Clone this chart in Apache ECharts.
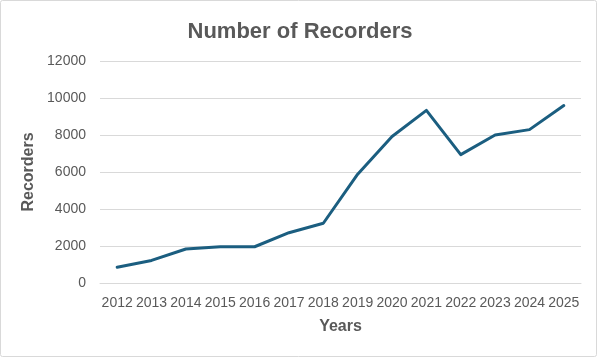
<!DOCTYPE html>
<html>
<head>
<meta charset="utf-8">
<script src="https://cdn.jsdelivr.net/npm/echarts@6/dist/echarts.min.js"></script>
<style>
html,body{margin:0;padding:0;background:#fff;}
#chart{width:600px;height:358px;}
</style>
</head>
<body>
<div id="chart"></div>
<script>
const years = ['2012','2013','2014','2015','2016','2017','2018','2019','2020','2021','2022','2023','2024','2025'];
const recorders = [850, 1220, 1840, 1960, 1960, 2720, 3230, 5880, 7920, 9330, 6940, 8000, 8290, 9590];

const chart = echarts.init(document.getElementById('chart'), null, {renderer:'canvas'});
const font = 'Liberation Sans, Arial, sans-serif';
chart.setOption({
  backgroundColor: '#fff',
  animation: false,
  title: {
    text: 'Number of Recorders',
    left: 'center',
    top: 16,
    textStyle: {fontFamily: font, fontSize: 22, fontWeight: 'bold', color: '#595959'}
  },
  graphic: [{
    type: 'rect',
    shape: {x: 0.5, y: 0.5, width: 596, height: 356, r: 2},
    style: {fill: 'none', stroke: '#d9d9d9', lineWidth: 1},
    silent: true
  }],
  grid: {left: 100, right: 19, top: 61, bottom: 75, containLabel: false},
  xAxis: {
    type: 'category',
    data: years,
    boundaryGap: true,
    name: 'Years',
    nameLocation: 'middle',
    nameGap: 36,
    nameTextStyle: {fontFamily: font, fontSize: 16, fontWeight: 'bold', color: '#595959'},
    axisLine: {show: true, lineStyle: {color: '#d9d9d9', width: 1}},
    axisTick: {show: false},
    axisLabel: {fontFamily: font, fontSize: 14, color: '#595959', margin: 13, interval: 0}
  },
  yAxis: {
    type: 'value',
    min: 0,
    max: 12000,
    interval: 2000,
    name: 'Recorders',
    nameLocation: 'middle',
    nameGap: 60,
    nameRotate: 90,
    nameTextStyle: {fontFamily: font, fontSize: 16, fontWeight: 'bold', color: '#595959'},
    axisLine: {show: false},
    axisTick: {show: false},
    axisLabel: {fontFamily: font, fontSize: 14, color: '#595959', margin: 14, formatter: v => String(v)},
    splitLine: {lineStyle: {color: '#d9d9d9', width: 1}}
  },
  series: [{
    type: 'line',
    data: recorders,
    symbol: 'none',
    lineStyle: {color: '#1b5e80', width: 3, join: 'round', cap: 'round'},
    itemStyle: {color: '#1b5e80'}
  }]
});
</script>
</body>
</html>
